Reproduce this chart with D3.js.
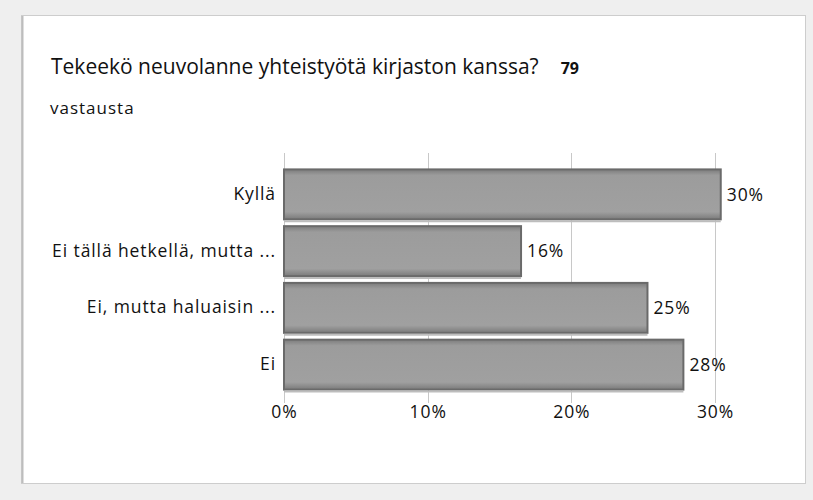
<!DOCTYPE html>
<html>
<head>
<meta charset="utf-8">
<script src="https://cdn.jsdelivr.net/npm/d3@7"></script>
<style>
  body { margin: 0; background: #efefef; }
  svg { display: block; font-family: "Open Sans", "Noto Sans", sans-serif; }
</style>
</head>
<body>
<div id="chart"></div>
<script>
// survey answers (79 replies)
var categories = ['Kyllä', 'Ei tällä hetkellä, mutta ...', 'Ei, mutta haluaisin ...', 'Ei'];
var shares = [30.4, 16.5, 25.3, 27.8];
var share_labels = ['30%', '16%', '25%', '28%'];
var ticks = [0, 10, 20, 30];
var tick_labels = ['0%', '10%', '20%', '30%'];

var title = 'Tekeekö neuvolanne yhteistyötä kirjaston kanssa?';
var answer_count = '79';
var subtitle = 'vastausta';

var W = 813, H = 500;
var label_size = '17.5px';
var label_spacing = '0.9px';

var svg = d3.select('#chart')
    .append('svg')
        .attr('width', W)
        .attr('height', H);

// bar gradient, darker band at the top like the original
var defs = svg.append('defs');
var grad = defs.append('linearGradient')
    .attr('id', 'bar_grad')
    .attr('x1', 0).attr('y1', 0).attr('x2', 0).attr('y2', 1);
grad.append('stop').attr('offset', '0%').attr('stop-color', '#7c7c7c');
grad.append('stop').attr('offset', '12%').attr('stop-color', '#9c9c9c');
grad.append('stop').attr('offset', '85%').attr('stop-color', '#a0a0a0');
grad.append('stop').attr('offset', '100%').attr('stop-color', '#7a7a7a');

// card
svg.append('rect')
    .attr('x', 21.5).attr('y', 15.5)
    .attr('width', 784).attr('height', 468)
    .attr('fill', '#fff')
    .attr('stroke', '#cdcdcd')
    .attr('stroke-width', 1);
svg.append('line')
    .attr('x1', 22.5).attr('x2', 22.5)
    .attr('y1', 16).attr('y2', 483)
    .attr('stroke', '#bdbdbd')
    .attr('stroke-width', 2);

// title
var t = svg.append('text')
    .attr('x', 51).attr('y', 74)
    .attr('fill', '#111')
    .style('font-size', '21px')
    .text(title);
t.append('tspan')
    .attr('dx', 22)
    .style('font-size', '16px')
    .style('font-weight', 'bold')
    .text(answer_count);

svg.append('text')
    .attr('x', 50).attr('y', 114)
    .attr('fill', '#111')
    .style('font-size', '17px')
    .style('letter-spacing', '1px')
    .text(subtitle);

var x_scale = d3.scaleLinear()
    .domain([0, 30])
    .range([284, 715]);

var y_scale = d3.scaleBand()
    .domain(categories)
    .range([166, 393])
    .paddingInner(0.12)
    .paddingOuter(0.06);

// grid lines
svg.append('g')
    .selectAll('line')
    .data(ticks)
    .enter()
    .append('line')
        .attr('x1', function(d) {return Math.round(x_scale(d)) + 0.5;})
        .attr('x2', function(d) {return Math.round(x_scale(d)) + 0.5;})
        .attr('y1', 153)
        .attr('y2', 403)
        .attr('stroke', '#c8c8c8')
        .attr('stroke-width', 1);

var x_axis = d3.axisBottom(x_scale)
    .tickValues(ticks)
    .tickSize(0)
    .tickPadding(0)
    .tickFormat(function(d, i) {return tick_labels[i];});

svg.append('g')
    .attr('class', 'x-axis')
    .attr('transform', 'translate(0,406)')
    .call(x_axis)
    .call(function(g) {g.select('.domain').remove();})
    .selectAll('text')
        .attr('fill', '#111')
        .style('font-size', label_size)
        .style('letter-spacing', label_spacing)
        .style('font-family', '"Open Sans", sans-serif');

var y_axis = d3.axisLeft(y_scale)
    .tickSize(0)
    .tickPadding(8);

svg.append('g')
    .attr('class', 'y-axis')
    .attr('transform', 'translate(284,0)')
    .call(y_axis)
    .call(function(g) {g.select('.domain').remove();})
    .selectAll('text')
        .attr('fill', '#111')
        .style('font-size', label_size)
        .style('letter-spacing', label_spacing)
        .style('font-family', '"Open Sans", sans-serif');

var rows = categories.map(function(c, i) {
    return {cat: c, value: shares[i], label: share_labels[i]};
});

svg.selectAll('.bar')
    .data(rows)
    .enter()
    .append('rect')
        .attr('class', 'bar')
        .attr('x', x_scale(0))
        .attr('y', function(d) {return y_scale(d.cat);})
        .attr('width', function(d) {return x_scale(d.value) - x_scale(0);})
        .attr('height', y_scale.bandwidth())
        .attr('fill', 'url(#bar_grad)')
        .attr('stroke', '#6a6a6a')
        .attr('stroke-width', 2);

// thin light edge under each bar
svg.selectAll('.edge')
    .data(rows)
    .enter()
    .append('line')
        .attr('class', 'edge')
        .attr('x1', x_scale(0))
        .attr('x2', function(d) {return x_scale(d.value);})
        .attr('y1', function(d) {return y_scale(d.cat) + y_scale.bandwidth() + 2;})
        .attr('y2', function(d) {return y_scale(d.cat) + y_scale.bandwidth() + 2;})
        .attr('stroke', '#bdbdbd')
        .attr('stroke-width', 2);

svg.selectAll('.val')
    .data(rows)
    .enter()
    .append('text')
        .attr('class', 'val')
        .attr('x', function(d) {return x_scale(d.value) + 6;})
        .attr('y', function(d) {return y_scale(d.cat) + y_scale.bandwidth() / 2;})
        .attr('dy', '0.35em')
        .attr('fill', '#111')
        .style('font-size', label_size)
        .style('letter-spacing', label_spacing)
        .text(function(d) {return d.label;});
</script>
</body>
</html>
